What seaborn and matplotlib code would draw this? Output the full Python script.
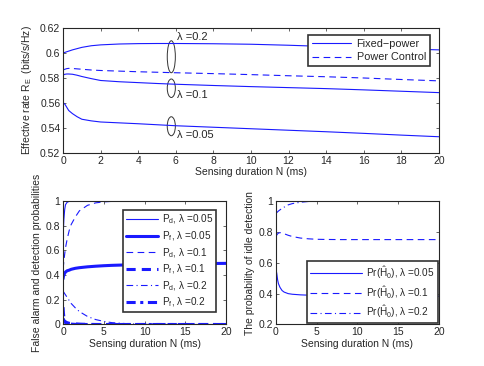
import seaborn as sns
import matplotlib.pyplot as plt
from matplotlib.patches import Ellipse

# top panel: effective rate vs sensing duration
n_top = [0, 0.1, 0.2, 0.3, 0.5, 0.75, 1, 1.5, 2, 3, 4, 5, 6, 8, 10, 12, 14, 16, 18, 20]
fixed_02 = [0.600, 0.6005, 0.601, 0.6015, 0.6025, 0.6035, 0.6045, 0.6058, 0.6065, 0.6072,
            0.6075, 0.6076, 0.6076, 0.6074, 0.607, 0.6062, 0.6052, 0.6042, 0.6033, 0.6025]
power_ctrl = [0.5865, 0.587, 0.5875, 0.5877, 0.5876, 0.5873, 0.587, 0.5864, 0.586, 0.5855,
              0.585, 0.5846, 0.5842, 0.5835, 0.5827, 0.5818, 0.581, 0.580, 0.5788, 0.5777]
fixed_01 = [0.5824, 0.583, 0.5832, 0.5832, 0.583, 0.5822, 0.5812, 0.5795, 0.578, 0.577,
            0.5763, 0.5756, 0.575, 0.574, 0.5731, 0.5723, 0.5715, 0.5705, 0.5694, 0.5683]
fixed_005 = [0.5603, 0.559, 0.5565, 0.554, 0.5515, 0.549, 0.547, 0.5457, 0.5448, 0.5441,
             0.5434, 0.5426, 0.5418, 0.5406, 0.5394, 0.5382, 0.537, 0.5357, 0.5343, 0.533]

# bottom left: false alarm / detection probabilities
n_bl = [0, 0.05, 0.1, 0.2, 0.3, 0.5, 0.75, 1, 1.5, 2, 3, 4, 5, 6, 8, 10, 15, 20]
pd_005 = [0.70, 0.78, 0.85, 0.93, 0.97, 0.99, 0.997, 1, 1, 1, 1, 1, 1, 1, 1, 1, 1, 1]
pf_005 = [0.37, 0.39, 0.40, 0.415, 0.425, 0.435, 0.44, 0.447, 0.455, 0.46,
          0.467, 0.472, 0.476, 0.479, 0.483, 0.487, 0.492, 0.495]
pd_01 = [0.45, 0.48, 0.51, 0.57, 0.62, 0.69, 0.76, 0.81, 0.87, 0.92,
         0.965, 0.985, 0.993, 0.997, 1, 1, 1, 1]
pf_01 = [0.05, 0.04, 0.035, 0.025, 0.02, 0.015, 0.01, 0.008, 0.005, 0.003,
         0.001, 0, 0, 0, 0, 0, 0, 0]
pd_02 = [0.27, 0.265, 0.26, 0.25, 0.24, 0.22, 0.195, 0.17, 0.135, 0.105,
         0.065, 0.04, 0.025, 0.015, 0.006, 0.002, 0, 0]
pf_02 = [0.14, 0.09, 0.06, 0.03, 0.015, 0.008, 0.005, 0.003, 0.001, 0,
         0, 0, 0, 0, 0, 0, 0, 0]

# bottom right: probability of idle detection
n_br = [0, 0.1, 0.2, 0.3, 0.5, 0.75, 1, 1.5, 2, 3, 4, 5, 6, 8, 10, 15, 20]
h0_005 = [0.56, 0.53, 0.49, 0.465, 0.44, 0.42, 0.41, 0.40, 0.396, 0.392,
          0.39, 0.389, 0.388, 0.387, 0.386, 0.384, 0.383]
h0_01 = [0.77, 0.78, 0.787, 0.792, 0.795, 0.793, 0.788, 0.778, 0.77, 0.76,
         0.755, 0.752, 0.751, 0.75, 0.75, 0.75, 0.75]
h0_02 = [0.92, 0.925, 0.93, 0.935, 0.943, 0.952, 0.96, 0.975, 0.983, 0.992,
         0.997, 0.999, 1, 1, 1, 1, 1]

sns.set_style("ticks")
plt.rcParams["font.family"] = ["Liberation Sans", "DejaVu Sans"]
plt.rcParams.update({
    "font.size": 7.5,
    "mathtext.fontset": "custom",
    "mathtext.rm": "Liberation Sans",
    "mathtext.it": "Liberation Sans:italic",
    "mathtext.default": "rm",
    "xtick.direction": "in", "ytick.direction": "in",
    "xtick.top": True, "ytick.right": True,
    "xtick.major.size": 2.5, "ytick.major.size": 2.5,
    "xtick.major.width": 0.5, "ytick.major.width": 0.5,
    "axes.edgecolor": "0.15", "axes.linewidth": 0.8,
    "xtick.major.pad": 2, "ytick.major.pad": 2,
})

fig = plt.figure(figsize=(4.85, 3.66), dpi=100)
ax1 = fig.add_axes([0.130, 0.582, 0.775, 0.3415])
ax2 = fig.add_axes([0.130, 0.1134, 0.336, 0.3374])
ax3 = fig.add_axes([0.569, 0.1134, 0.336, 0.3374])

blue = "#1a1aff"
dash = (0, (6, 4))
dashdot = (0, (6, 3, 1, 3))

# ---- top
sns.lineplot(x=n_top, y=fixed_02, ax=ax1, color=blue, lw=0.8, label="Fixed\u2212power")
sns.lineplot(x=n_top, y=power_ctrl, ax=ax1, color=blue, lw=0.8, linestyle=dash, label="Power Control")
sns.lineplot(x=n_top, y=fixed_01, ax=ax1, color=blue, lw=0.8)
sns.lineplot(x=n_top, y=fixed_005, ax=ax1, color=blue, lw=0.8)
for cy, h in [(0.597, 0.0256), (0.5718, 0.0148), (0.5414, 0.0152)]:
    ax1.add_patch(Ellipse((5.76, cy), 0.43, h, fill=False, ec="0.2", lw=0.7))
ax1.text(6.05, 0.6128, "\u03bb =0.2", fontsize=8, va="center")
ax1.text(6.05, 0.5664, "\u03bb =0.1", fontsize=8, va="center")
ax1.text(6.05, 0.5344, "\u03bb =0.05", fontsize=8, va="center")
ax1.set_xlim(0, 20)
ax1.set_ylim(0.52, 0.62)
ax1.set_xticks(range(0, 21, 2))
ax1.set_yticks([0.52, 0.54, 0.56, 0.58, 0.6, 0.62])
ax1.set_yticklabels(["0.52", "0.54", "0.56", "0.58", "0.6", "0.62"])
ax1.set_xlabel("Sensing duration N (ms)", labelpad=1)
ax1.set_ylabel("Effective rate R$_E$  (bits/s/Hz)", labelpad=4)
ax1.legend(loc="upper right", fancybox=False, framealpha=1, edgecolor="0.2",
           handlelength=3.6, borderpad=0.35, labelspacing=0.3, fontsize=7.8,
           handletextpad=0.5, bbox_to_anchor=(0.99, 0.985)).get_frame().set_linewidth(1.2)

# ---- bottom left
sns.lineplot(x=n_bl, y=pd_005, ax=ax2, color=blue, lw=0.8, label="P$_{d}$, \u03bb =0.05")
sns.lineplot(x=n_bl, y=pf_005, ax=ax2, color=blue, lw=2.2, label="P$_{f}$, \u03bb =0.05")
sns.lineplot(x=n_bl, y=pd_01, ax=ax2, color=blue, lw=0.8, linestyle=dash, label="P$_{d}$, \u03bb =0.1")
sns.lineplot(x=n_bl, y=pf_01, ax=ax2, color=blue, lw=2.2, linestyle=(0, (3, 2)), label="P$_{f}$, \u03bb =0.1")
sns.lineplot(x=n_bl, y=pd_02, ax=ax2, color=blue, lw=0.8, linestyle=dashdot, label="P$_{d}$, \u03bb =0.2")
sns.lineplot(x=n_bl, y=pf_02, ax=ax2, color=blue, lw=2.2, linestyle=(0, (3, 1.5, 1, 1.5)), label="P$_{f}$, \u03bb =0.2")
ax2.set_xlim(0, 20)
ax2.set_ylim(0, 1)
ax2.set_xticks([0, 5, 10, 15, 20])
ax2.set_yticks([0, 0.2, 0.4, 0.6, 0.8, 1])
ax2.set_yticklabels(["0", "0.2", "0.4", "0.6", "0.8", "1"])
ax2.set_xlabel("Sensing duration N (ms)", labelpad=1)
ax2.set_ylabel("False alarm and detection probabilities", labelpad=3)
leg = ax2.legend(loc="upper right", fancybox=False, framealpha=1, edgecolor="0.2",
                 handlelength=3.2, borderpad=0.3, labelspacing=0.3, fontsize=7.2,
                 handletextpad=0.4, bbox_to_anchor=(0.97, 0.97))
leg.get_frame().set_linewidth(1.2)

# ---- bottom right
sns.lineplot(x=n_br, y=h0_005, ax=ax3, color=blue, lw=0.8, label="Pr($\\hat{H}_0$), \u03bb =0.05")
sns.lineplot(x=n_br, y=h0_01, ax=ax3, color=blue, lw=0.8, linestyle=dash, label="Pr($\\hat{H}_0$), \u03bb =0.1")
sns.lineplot(x=n_br, y=h0_02, ax=ax3, color=blue, lw=0.8, linestyle=dashdot, label="Pr($\\hat{H}_0$), \u03bb =0.2")
ax3.set_xlim(0, 20)
ax3.set_ylim(0.2, 1)
ax3.set_xticks([0, 5, 10, 15, 20])
ax3.set_yticks([0.2, 0.4, 0.6, 0.8, 1])
ax3.set_yticklabels(["0.2", "0.4", "0.6", "0.8", "1"])
ax3.set_xlabel("Sensing duration N (ms)", labelpad=1)
ax3.set_ylabel("The probability of idle detection", labelpad=3)
leg = ax3.legend(loc="lower right", fancybox=False, framealpha=1, edgecolor="0.2",
                 handlelength=5.2, borderpad=0.3, labelspacing=0.3, fontsize=7.2,
                 handletextpad=0.4, borderaxespad=0.1)
leg.get_frame().set_linewidth(1.2)

fig.savefig("out.png", dpi=100)
